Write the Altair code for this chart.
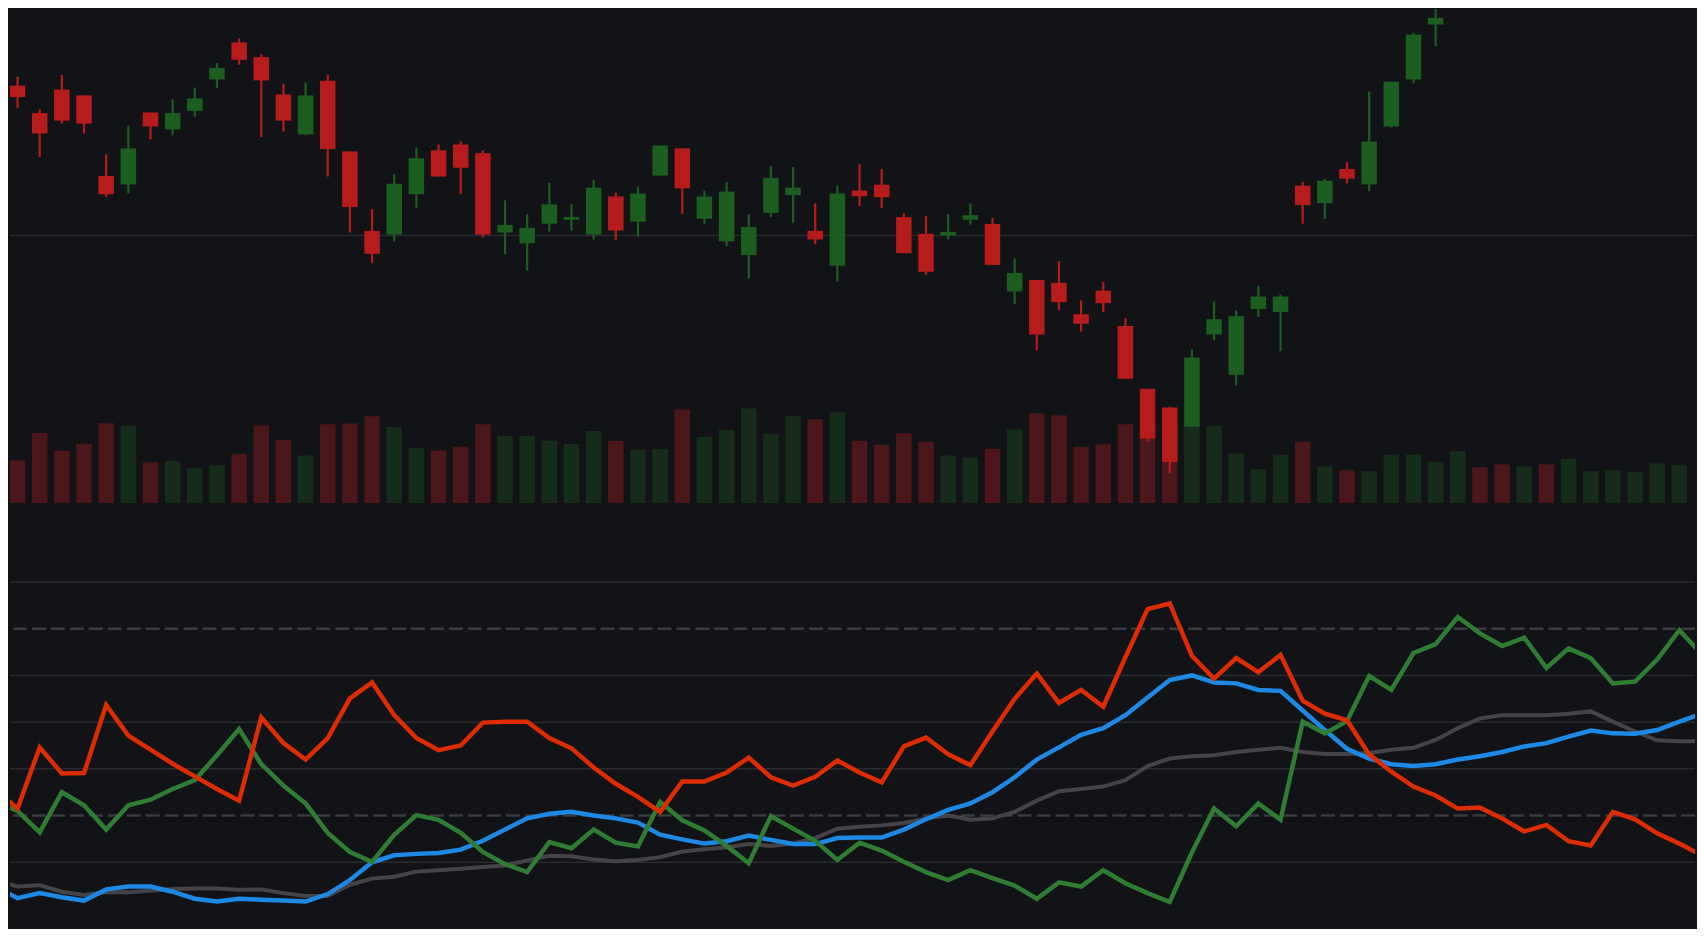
import altair as alt
import pandas as pd

# ---------------- data ----------------
idx = list(range(76))
opens = [115.27, 112.47, 114.87, 114.27, 106.07, 105.2, 112.53, 110.8, 112.7, 115.9,
         119.67, 118.17, 114.37, 110.3, 115.77, 108.57, 100.47, 100.1, 104.2, 108.67,
         109.27, 108.37, 100.3, 99.2, 101.2, 101.6, 100.1, 103.97, 101.4, 106.1,
         108.87, 101.7, 99.4, 98.0, 102.3, 104.1, 100.47, 96.9, 104.57, 105.17,
         101.87, 100.17, 100.0, 101.6, 101.17, 94.3, 95.47, 95.17, 91.97, 94.37,
         90.77, 84.37, 82.47, 80.5, 89.9, 85.8, 92.5, 92.2, 105.07, 103.3,
         106.77, 105.2, 111.1, 115.9, 121.5, 123.6, 127.5, 126.2, 124.8, 127.6,
         126.6, 129.1, 130.3, 131.5, 132.7, 134.0]
closes = [114.1, 110.4, 111.7, 111.4, 104.2, 108.87, 111.1, 112.47, 113.97, 117.07,
          117.9, 115.8, 111.7, 114.27, 108.8, 102.9, 98.13, 105.27, 107.87, 106.0,
          106.9, 100.1, 101.07, 100.77, 103.17, 101.87, 104.87, 100.5, 104.27, 109.17,
          104.8, 103.97, 104.47, 100.87, 105.87, 104.87, 99.6, 104.27, 104.0, 103.9,
          98.2, 96.3, 100.37, 102.07, 97.0, 96.17, 89.9, 93.2, 91.0, 93.1,
          85.4, 79.3, 76.9, 87.57, 91.47, 91.77, 93.77, 93.77, 103.1, 105.57,
          105.8, 109.57, 115.67, 120.47, 122.17, 126.8, 125.6, 124.6, 127.2, 126.4,
          129.0, 130.2, 131.4, 132.6, 133.9, 135.1]
highs = [116.17, 112.87, 116.37, 114.27, 108.27, 111.17, 112.53, 113.87, 115.07, 117.57,
         120.07, 118.47, 115.47, 115.57, 116.37, 108.57, 102.67, 106.27, 108.97, 109.27,
         109.57, 108.67, 103.57, 102.17, 105.37, 103.17, 105.67, 104.37, 104.97, 109.17,
         108.87, 104.57, 105.47, 102.17, 107.07, 106.97, 103.27, 105.07, 107.27, 106.77,
         102.27, 101.97, 102.17, 103.27, 101.77, 97.67, 95.47, 97.37, 93.37, 95.27,
         91.57, 84.37, 82.57, 88.37, 93.27, 92.37, 94.87, 93.97, 105.47, 105.77,
         107.47, 114.67, 115.67, 120.67, 123.8, 127.5, 128.4, 127.0, 127.9, 128.3,
         129.5, 130.6, 131.8, 133.0, 134.2, 135.6]
lows = [113.0, 108.0, 111.4, 110.4, 103.9, 104.3, 109.8, 110.2, 112.1, 115.0,
        117.4, 110.0, 110.6, 110.2, 106.0, 100.3, 97.2, 99.4, 102.8, 106.0,
        104.2, 99.8, 98.1, 96.4, 100.4, 100.5, 99.6, 99.5, 99.9, 106.1,
        102.2, 101.2, 98.9, 95.6, 101.9, 101.3, 99.1, 95.3, 103.0, 102.8,
        98.2, 96.0, 99.6, 101.1, 97.0, 93.0, 88.3, 92.4, 90.2, 92.2,
        85.4, 79.0, 75.8, 80.5, 89.3, 84.7, 91.7, 88.2, 101.2, 101.7,
        105.3, 104.5, 111.0, 115.5, 119.3, 123.4, 125.0, 124.1, 124.3, 125.9,
        126.1, 128.4, 129.7, 130.9, 131.8, 133.2]
volumes = [433, 713, 533, 603, 813, 787, 413, 427, 353, 383,
           500, 790, 643, 483, 803, 810, 883, 773, 560, 533,
           573, 803, 683, 683, 633, 600, 733, 633, 543, 550,
           953, 673, 743, 963, 703, 883, 853, 923, 633, 593,
           710, 623, 483, 463, 553, 747, 913, 893, 573, 597,
           803, 740, 760, 800, 783, 503, 343, 493, 623, 373,
           333, 323, 493, 493, 417, 527, 363, 393, 373, 393,
           450, 323, 333, 313, 403, 383]
price_levels = [100]

line_idx = list(range(-1, 77))
red_line = [35.7, 31.5, 44.6, 39.0, 39.1, 53.7, 47.1, 44.1, 41.1, 38.4, 35.7,
            33.2, 51.0, 45.5, 42.0, 46.6, 55.1, 58.5, 51.5, 46.6, 44.0,
            45.0, 49.9, 50.1, 50.1, 46.6, 44.4, 40.3, 36.8, 34.0, 30.8,
            37.3, 37.3, 39.2, 42.4, 38.2, 36.4, 38.3, 41.8, 39.2, 37.1,
            44.8, 46.7, 43.1, 40.8, 48.0, 55.0, 60.4, 54.1, 56.9, 53.3,
            63.9, 74.2, 75.4, 64.2, 59.3, 63.7, 60.7, 64.4, 54.6, 51.8,
            50.4, 43.1, 39.4, 36.2, 34.3, 31.5, 31.7, 29.4, 26.6, 28.0,
            24.5, 23.6, 30.8, 29.2, 26.2, 24.0, 21.5]
green_line = [32.9, 31.0, 26.4, 35.0, 32.2, 27.0, 32.2, 33.4, 35.7, 37.6, 42.9,
              48.5, 41.0, 36.4, 32.6, 26.3, 22.2, 20.1, 25.9, 30.1, 29.1,
              26.3, 22.2, 19.6, 17.9, 24.3, 23.0, 27.0, 24.2, 23.4, 32.9,
              29.0, 26.8, 23.5, 19.8, 29.9, 27.2, 24.6, 20.5, 24.2, 22.5,
              20.1, 17.9, 16.2, 18.3, 16.6, 15.0, 12.2, 15.7, 14.8, 18.3,
              15.5, 13.4, 11.5, 22.1, 31.5, 27.7, 32.6, 29.1, 50.1, 47.6,
              50.2, 59.9, 56.9, 64.8, 66.7, 72.5, 69.0, 66.3, 68.1, 61.6,
              65.8, 63.7, 58.3, 58.7, 63.4, 69.7, 64.6]
blue_line = [14.8, 12.3, 13.4, 12.5, 11.8, 14.2, 14.8, 14.8, 13.7, 12.2, 11.6,
             12.2, 12.0, 11.8, 11.6, 13.2, 16.2, 20.0, 21.5, 21.8, 22.0,
             22.7, 24.6, 27.0, 29.4, 30.4, 30.8, 30.0, 29.4, 28.5, 25.9,
             24.9, 24.0, 24.5, 25.7, 24.8, 23.9, 23.9, 25.2, 25.3, 25.3,
             27.0, 29.2, 31.2, 32.6, 35.0, 38.2, 42.0, 44.6, 47.3, 48.7,
             51.5, 55.3, 59.0, 60.0, 58.5, 58.3, 56.9, 56.7, 52.5, 48.3,
             44.3, 42.2, 41.0, 40.6, 41.0, 42.0, 42.7, 43.6, 44.8, 45.5,
             46.9, 48.2, 47.6, 47.5, 48.3, 50.1, 51.8]
gray_line = [16.2, 14.8, 15.1, 13.7, 13.0, 13.6, 13.6, 13.9, 14.3, 14.4, 14.4,
             14.1, 14.2, 13.4, 12.8, 12.8, 15.2, 16.5, 16.9, 18.0, 18.3,
             18.6, 19.0, 19.3, 20.4, 21.4, 21.3, 20.6, 20.2, 20.5, 21.1,
             22.3, 22.8, 23.2, 23.9, 23.5, 24.0, 25.2, 27.2, 27.6, 27.9,
             28.4, 29.4, 30.0, 29.1, 29.4, 30.8, 33.2, 35.2, 35.7, 36.2,
             37.6, 40.6, 42.2, 42.7, 42.9, 43.6, 44.1, 44.5, 43.6, 43.2,
             43.2, 43.4, 44.1, 44.5, 46.2, 48.7, 50.8, 51.5, 51.5, 51.5,
             51.8, 52.3, 50.1, 48.0, 46.1, 45.9, 45.9]
osc_solid_levels = [80, 60, 50, 40, 20]
osc_dash_levels = [70, 30]

# ---------------- style ----------------
BG = "#121317"
UP = "#1b5e20"
DOWN = "#b71c1c"
UP_VOL = "#162c1b"
DOWN_VOL = "#4b171a"
GRID = "#2a2b2f"
DASH = "#3a3b3f"

W = 1689
H_TOP = 495
H_BOT = 426

x_scale = alt.Scale(domain=[-0.341, 75.706], nice=False, zero=False)
price_scale = alt.Scale(domain=[72.74, 123.07], nice=False, zero=False)
vol_scale = alt.Scale(domain=[0, 5033], nice=False)
osc_scale = alt.Scale(domain=[5.95, 96.93], nice=False, zero=False)

candles = pd.DataFrame({"i": idx, "open": opens, "high": highs, "low": lows,
                        "close": closes, "volume": volumes})

base = alt.Chart(candles).transform_calculate(
    x0="datum.i - 0.35", x1="datum.i + 0.35"
)
is_up = "datum.close >= datum.open"

volume = base.mark_bar(clip=True, strokeWidth=0).encode(
    x=alt.X("x0:Q", scale=x_scale, axis=None),
    x2="x1:Q",
    y=alt.Y("volume:Q", scale=vol_scale, axis=None),
    y2=alt.datum(0),
    color=alt.condition(is_up, alt.value(UP_VOL), alt.value(DOWN_VOL)),
)

price_grid = alt.Chart(pd.DataFrame({"level": price_levels})).mark_rule(
    color=GRID, strokeWidth=1.5
).encode(y=alt.Y("level:Q", scale=price_scale, axis=None))

wicks = base.mark_rule(clip=True, strokeWidth=2.2).encode(
    x=alt.X("i:Q", scale=x_scale, axis=None),
    y=alt.Y("low:Q", scale=price_scale, axis=None),
    y2="high:Q",
    color=alt.condition(is_up, alt.value(UP), alt.value(DOWN)),
)

bodies = base.mark_bar(clip=True, strokeWidth=0).encode(
    x=alt.X("x0:Q", scale=x_scale, axis=None),
    x2="x1:Q",
    y=alt.Y("open:Q", scale=price_scale, axis=None),
    y2="close:Q",
    color=alt.condition(is_up, alt.value(UP), alt.value(DOWN)),
)

price_layer = alt.layer(price_grid, wicks, bodies)
top = alt.layer(volume, price_layer).resolve_scale(y="independent").properties(
    width=W, height=H_TOP
)

osc = pd.DataFrame({"i": line_idx, "red": red_line, "green": green_line,
                    "blue": blue_line, "gray": gray_line})

grid_solid = alt.Chart(pd.DataFrame({"level": osc_solid_levels})).mark_rule(
    color=GRID, strokeWidth=1.5
).encode(y=alt.Y("level:Q", scale=osc_scale, axis=None))

grid_dash = alt.Chart(pd.DataFrame({"level": osc_dash_levels})).mark_rule(
    color=DASH, strokeWidth=2.5, strokeDash=[14, 5]
).encode(y=alt.Y("level:Q", scale=osc_scale, axis=None))


def osc_line(field, color, width):
    return alt.Chart(osc).mark_line(clip=True, color=color, strokeWidth=width).encode(
        x=alt.X("i:Q", scale=x_scale, axis=None),
        y=alt.Y(f"{field}:Q", scale=osc_scale, axis=None),
    )


bottom = alt.layer(
    grid_solid,
    grid_dash,
    osc_line("gray", "#444448", 4),
    osc_line("blue", "#1e88e5", 4.5),
    osc_line("green", "#2e7d32", 4.5),
    osc_line("red", "#dd2c00", 4.5),
).properties(width=W, height=H_BOT)

chart = (
    alt.vconcat(top, bottom, spacing=0)
    .properties(background=BG, padding=0)
    .configure_view(strokeWidth=0)
)

chart.save("out.html", embed_options={"renderer": "svg", "actions": False})
